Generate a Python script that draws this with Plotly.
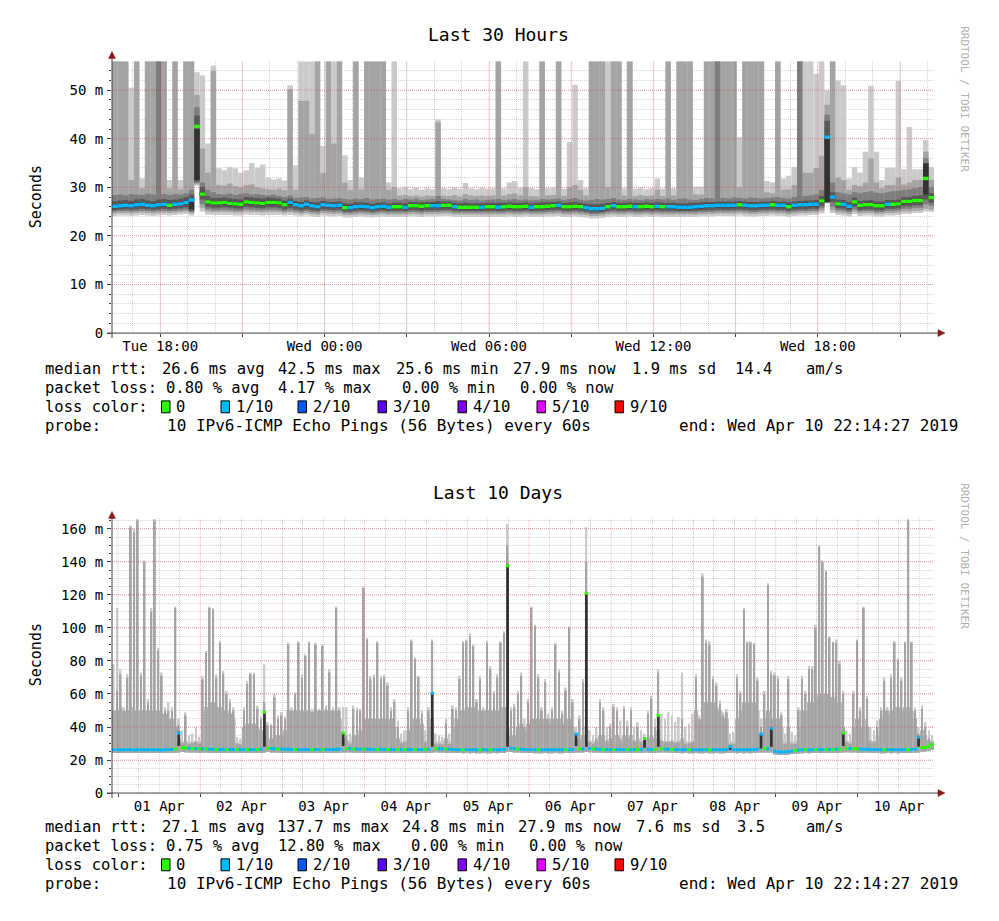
import numpy as np
import pandas as pd
import plotly.graph_objects as go

W, H = 999, 921
MONO = "DejaVu Sans Mono"

# ================= Last 30 Hours : 12-minute steps (10 sorted pings per step) =================
start30 = "2019-04-09 16:14:27"
end30 = "2019-04-10 22:14:27"

med30 = [
26.1, 26.2, 26.3, 26.2, 26.4, 26.5, 26.3, 26.2, 26.4, 26.5,
26.3, 26.5, 26.6, 26.9, 27.4, 42.5, 28.6, 27.0, 26.8, 26.8,
26.9, 26.7, 26.6, 26.5, 27.0, 26.9, 26.8, 26.7, 26.9, 26.9,
26.8, 26.4, 26.9, 26.4, 26.2, 26.5, 26.2, 26.0, 26.4, 26.3,
26.2, 26.3, 25.8, 25.8, 26.0, 26.1, 26.0, 25.8, 26.0, 26.1,
25.9, 26.0, 26.0, 25.9, 26.2, 26.2, 26.1, 26.2, 26.2, 26.2,
26.3, 26.3, 26.0, 25.9, 25.9, 25.9, 25.9, 25.9, 26.0, 26.0,
25.9, 26.0, 26.1, 26.0, 26.0, 26.1, 25.9, 26.0, 26.0, 26.1,
26.2, 26.3, 26.0, 26.0, 26.1, 26.0, 25.8, 25.6, 25.6, 25.7,
26.0, 26.2, 26.0, 26.0, 26.1, 26.0, 26.0, 26.1, 26.0, 26.1,
26.0, 26.0, 26.0, 25.9, 25.9, 25.9, 26.0, 26.1, 26.2, 26.2,
26.3, 26.3, 26.3, 26.3, 26.4, 26.3, 26.2, 26.2, 26.3, 26.3,
26.4, 26.3, 26.3, 26.0, 26.3, 26.4, 26.4, 26.5, 26.5, 27.2,
40.3, 28.0, 26.6, 26.5, 26.1, 27.0, 26.3, 26.4, 26.4, 26.2,
26.2, 26.5, 26.5, 26.6, 27.1, 27.1, 27.3, 27.3, 31.8, 27.9,
]
loss30 = [
1, 1, 1, 1, 1, 1, 1, 1, 1, 1,
0, 1, 1, 1, 1, 0, 0, 0, 0, 0,
0, 0, 0, 0, 0, 0, 0, 0, 0, 0,
0, 0, 1, 1, 1, 1, 1, 1, 1, 1,
1, 1, 0, 1, 1, 1, 1, 1, 1, 1,
1, 0, 0, 1, 0, 0, 0, 0, 1, 1,
0, 0, 1, 0, 0, 0, 0, 1, 0, 0,
1, 0, 0, 0, 0, 0, 1, 0, 0, 0,
0, 1, 0, 0, 0, 0, 1, 1, 1, 1,
0, 1, 0, 0, 0, 1, 0, 0, 0, 1,
0, 1, 1, 1, 1, 1, 1, 1, 1, 1,
1, 1, 1, 1, 0, 1, 1, 1, 1, 1,
0, 1, 1, 0, 1, 1, 1, 1, 1, 0,
1, 1, 0, 1, 1, 0, 0, 0, 0, 0,
0, 1, 0, 0, 0, 0, 0, 0, 0, 0,
]
p1_30 = [
24.1, 24.2, 24.2, 24.1, 24.2, 24.3, 24.2, 24.1, 24.2, 24.3,
24.2, 24.3, 24.4, 24.5, 24.2, 30.3, 25.0, 24.4, 24.3, 24.3,
24.3, 24.3, 24.2, 24.2, 24.4, 24.3, 24.3, 24.2, 24.3, 24.3,
24.3, 24.2, 24.3, 24.2, 24.0, 24.2, 24.0, 23.9, 24.2, 24.1,
24.0, 24.1, 23.8, 23.8, 23.9, 24.0, 23.9, 23.8, 23.9, 24.0,
23.9, 23.9, 23.9, 23.9, 24.0, 24.0, 23.9, 24.0, 24.0, 24.0,
24.1, 24.1, 23.9, 23.9, 23.9, 23.9, 23.9, 23.9, 23.9, 23.9,
23.9, 23.9, 24.0, 23.9, 23.9, 24.0, 23.9, 23.9, 23.9, 24.0,
24.0, 24.1, 23.9, 23.9, 24.0, 23.9, 23.8, 23.6, 23.6, 23.7,
23.9, 24.0, 23.9, 23.9, 24.0, 23.9, 23.9, 24.0, 23.9, 24.0,
23.9, 23.9, 23.9, 23.9, 23.9, 23.9, 23.9, 24.0, 24.0, 24.0,
24.1, 24.1, 24.1, 24.1, 24.2, 24.1, 24.0, 24.0, 24.1, 24.1,
24.2, 24.1, 24.1, 23.9, 24.1, 24.2, 24.2, 24.3, 24.3, 24.6,
26.7, 24.7, 24.3, 24.2, 24.0, 24.5, 24.1, 24.2, 24.2, 24.0,
24.0, 24.2, 24.2, 24.3, 24.5, 24.5, 24.7, 24.7, 25.0, 24.9,
]
p2_30 = [
24.6, 24.7, 24.7, 24.6, 24.7, 24.8, 24.7, 24.6, 24.7, 24.8,
24.7, 24.8, 24.9, 25.0, 24.6, 30.6, 25.8, 25.0, 24.9, 24.9,
24.9, 24.9, 24.8, 24.8, 25.0, 24.9, 24.9, 24.8, 24.9, 24.9,
24.9, 24.7, 24.9, 24.7, 24.5, 24.7, 24.5, 24.4, 24.7, 24.6,
24.5, 24.6, 24.3, 24.3, 24.4, 24.5, 24.4, 24.3, 24.4, 24.5,
24.4, 24.4, 24.4, 24.4, 24.5, 24.5, 24.4, 24.5, 24.5, 24.5,
24.6, 24.6, 24.4, 24.4, 24.4, 24.4, 24.4, 24.4, 24.4, 24.4,
24.4, 24.4, 24.5, 24.4, 24.4, 24.5, 24.4, 24.4, 24.4, 24.5,
24.5, 24.6, 24.4, 24.4, 24.5, 24.4, 24.3, 24.1, 24.1, 24.2,
24.4, 24.5, 24.4, 24.4, 24.5, 24.4, 24.4, 24.5, 24.4, 24.5,
24.4, 24.4, 24.4, 24.4, 24.4, 24.4, 24.4, 24.5, 24.5, 24.5,
24.6, 24.6, 24.6, 24.6, 24.7, 24.6, 24.5, 24.5, 24.6, 24.6,
24.7, 24.6, 24.6, 24.4, 24.6, 24.7, 24.7, 24.8, 24.8, 25.2,
26.8, 25.3, 24.8, 24.7, 24.5, 25.0, 24.6, 24.7, 24.7, 24.5,
24.5, 24.7, 24.7, 24.8, 25.0, 25.0, 25.2, 25.2, 25.6, 25.4,
]
p3_30 = [
25.0, 25.1, 25.1, 25.0, 25.1, 25.2, 25.1, 25.0, 25.1, 25.2,
25.1, 25.2, 25.3, 25.4, 24.9, 30.9, 26.5, 25.5, 25.3, 25.3,
25.4, 25.3, 25.2, 25.2, 25.5, 25.4, 25.3, 25.3, 25.4, 25.4,
25.3, 25.1, 25.3, 25.1, 24.9, 25.1, 24.9, 24.8, 25.1, 25.0,
24.9, 25.0, 24.7, 24.7, 24.8, 24.9, 24.8, 24.7, 24.8, 24.9,
24.8, 24.8, 24.8, 24.8, 24.9, 24.9, 24.8, 24.9, 24.9, 24.9,
25.0, 25.0, 24.8, 24.8, 24.8, 24.8, 24.8, 24.8, 24.8, 24.8,
24.8, 24.8, 24.9, 24.8, 24.8, 24.9, 24.8, 24.8, 24.8, 24.9,
24.9, 25.0, 24.8, 24.8, 24.9, 24.8, 24.7, 24.5, 24.5, 24.6,
24.8, 24.9, 24.8, 24.8, 24.9, 24.8, 24.8, 24.9, 24.8, 24.9,
24.8, 24.8, 24.8, 24.8, 24.8, 24.8, 24.8, 24.9, 24.9, 24.9,
25.0, 25.0, 25.0, 25.0, 25.1, 25.0, 24.9, 24.9, 25.0, 25.0,
25.1, 25.0, 25.0, 24.8, 25.0, 25.1, 25.1, 25.2, 25.2, 25.7,
26.8, 26.0, 25.3, 25.2, 24.9, 25.5, 25.0, 25.1, 25.1, 24.9,
24.9, 25.2, 25.2, 25.3, 25.6, 25.6, 25.8, 25.8, 26.5, 26.2,
]
p4_30 = [
25.3, 25.4, 25.5, 25.4, 25.5, 25.6, 25.5, 25.4, 25.5, 25.6,
25.5, 25.6, 25.7, 25.9, 25.2, 31.2, 27.5, 26.0, 25.8, 25.8,
25.9, 25.8, 25.7, 25.6, 26.0, 25.9, 25.8, 25.7, 25.9, 25.9,
25.8, 25.5, 25.8, 25.5, 25.3, 25.5, 25.3, 25.2, 25.5, 25.4,
25.3, 25.4, 25.0, 25.0, 25.2, 25.3, 25.2, 25.0, 25.2, 25.3,
25.1, 25.2, 25.2, 25.1, 25.3, 25.3, 25.2, 25.3, 25.3, 25.3,
25.4, 25.4, 25.2, 25.1, 25.1, 25.1, 25.1, 25.1, 25.2, 25.2,
25.1, 25.2, 25.3, 25.2, 25.2, 25.3, 25.1, 25.2, 25.2, 25.3,
25.3, 25.4, 25.2, 25.2, 25.3, 25.2, 25.0, 24.8, 24.8, 24.9,
25.2, 25.3, 25.2, 25.2, 25.3, 25.2, 25.2, 25.3, 25.2, 25.3,
25.2, 25.2, 25.2, 25.1, 25.1, 25.1, 25.2, 25.3, 25.3, 25.3,
25.4, 25.4, 25.4, 25.4, 25.5, 25.4, 25.3, 25.3, 25.4, 25.4,
25.5, 25.4, 25.4, 25.2, 25.4, 25.5, 25.5, 25.6, 25.6, 26.2,
26.9, 27.0, 25.7, 25.6, 25.3, 26.0, 25.4, 25.5, 25.5, 25.3,
25.3, 25.6, 25.6, 25.7, 26.1, 26.1, 26.3, 26.3, 27.5, 26.8,
]
p5_30 = [
25.7, 25.8, 25.9, 25.8, 26.0, 26.1, 25.9, 25.8, 26.0, 26.1,
25.9, 26.1, 26.2, 26.5, 25.5, 31.5, 28.2, 26.6, 26.4, 26.4,
26.5, 26.3, 26.2, 26.1, 26.6, 26.5, 26.4, 26.3, 26.5, 26.5,
26.4, 26.0, 26.5, 26.0, 25.8, 26.1, 25.8, 25.6, 26.0, 25.9,
25.8, 25.9, 25.4, 25.4, 25.6, 25.7, 25.6, 25.4, 25.6, 25.7,
25.5, 25.6, 25.6, 25.5, 25.8, 25.8, 25.7, 25.8, 25.8, 25.8,
25.9, 25.9, 25.6, 25.5, 25.5, 25.5, 25.5, 25.5, 25.6, 25.6,
25.5, 25.6, 25.7, 25.6, 25.6, 25.7, 25.5, 25.6, 25.6, 25.7,
25.8, 25.9, 25.6, 25.6, 25.7, 25.6, 25.4, 25.2, 25.2, 25.3,
25.6, 25.8, 25.6, 25.6, 25.7, 25.6, 25.6, 25.7, 25.6, 25.7,
25.6, 25.6, 25.6, 25.5, 25.5, 25.5, 25.6, 25.7, 25.8, 25.8,
25.9, 25.9, 25.9, 25.9, 26.0, 25.9, 25.8, 25.8, 25.9, 25.9,
26.0, 25.9, 25.9, 25.6, 25.9, 26.0, 26.0, 26.1, 26.1, 26.8,
27.0, 27.6, 26.2, 26.1, 25.7, 26.6, 25.9, 26.0, 26.0, 25.8,
25.8, 26.1, 26.1, 26.2, 26.7, 26.7, 26.9, 26.9, 28.5, 27.5,
]
p6_30 = [
26.5, 26.6, 26.7, 26.6, 26.8, 26.9, 26.7, 26.6, 26.8, 26.9,
26.7, 26.9, 27.0, 27.3, 27.8, 42.0, 29.0, 27.4, 27.2, 27.2,
27.3, 27.1, 27.0, 26.9, 27.4, 27.3, 27.2, 27.1, 27.3, 27.3,
27.2, 26.8, 27.3, 26.8, 26.6, 26.9, 26.6, 26.4, 26.8, 26.7,
26.6, 26.7, 26.2, 26.2, 26.4, 26.5, 26.4, 26.2, 26.4, 26.5,
26.3, 26.4, 26.4, 26.3, 26.6, 26.6, 26.5, 26.6, 26.6, 26.6,
26.7, 26.7, 26.4, 26.3, 26.3, 26.3, 26.3, 26.3, 26.4, 26.4,
26.3, 26.4, 26.5, 26.4, 26.4, 26.5, 26.3, 26.4, 26.4, 26.5,
26.6, 26.7, 26.4, 26.4, 26.5, 26.4, 26.2, 26.0, 26.0, 26.1,
26.4, 26.6, 26.4, 26.4, 26.5, 26.4, 26.4, 26.5, 26.4, 26.5,
26.4, 26.4, 26.4, 26.3, 26.3, 26.3, 26.4, 26.5, 26.6, 26.6,
26.7, 26.7, 26.7, 26.7, 26.8, 26.7, 26.6, 26.6, 26.7, 26.7,
26.8, 26.7, 26.7, 26.4, 26.7, 26.8, 26.8, 26.9, 26.9, 27.6,
40.0, 28.4, 27.0, 26.9, 26.5, 27.4, 26.7, 26.8, 26.8, 26.6,
26.6, 26.9, 26.9, 27.0, 27.5, 27.5, 27.7, 27.7, 34.9, 28.3,
]
p7_30 = [
27.2, 27.3, 27.4, 27.2, 27.5, 27.6, 27.3, 27.2, 27.5, 27.6,
27.4, 27.5, 27.7, 28.0, 28.5, 44.8, 30.0, 28.2, 27.8, 27.8,
27.9, 27.7, 27.6, 27.5, 28.0, 27.9, 27.8, 27.7, 27.9, 27.8,
27.7, 27.3, 27.7, 27.2, 27.0, 27.3, 27.0, 26.9, 27.2, 27.0,
27.0, 27.1, 26.7, 26.6, 26.9, 26.9, 26.8, 26.6, 26.8, 26.9,
26.7, 26.8, 26.8, 26.7, 27.0, 27.0, 26.9, 27.0, 27.0, 27.2,
27.1, 27.1, 26.8, 26.7, 26.8, 26.7, 26.7, 26.7, 26.8, 26.8,
26.8, 26.8, 26.9, 26.8, 26.8, 26.9, 26.7, 26.8, 26.9, 26.9,
27.0, 27.1, 26.8, 26.9, 27.0, 26.8, 26.6, 26.5, 26.5, 26.6,
26.8, 27.0, 26.8, 26.8, 26.9, 26.8, 26.8, 26.9, 26.8, 26.9,
26.8, 26.8, 26.8, 26.7, 26.7, 26.8, 26.8, 26.9, 27.0, 27.0,
27.1, 27.1, 27.1, 27.1, 27.2, 27.1, 27.0, 27.0, 27.1, 27.1,
27.2, 27.1, 27.1, 26.9, 27.1, 27.2, 27.3, 27.3, 27.4, 28.2,
43.7, 29.0, 27.5, 27.4, 27.0, 27.9, 27.2, 27.3, 27.4, 27.1,
27.1, 27.4, 27.4, 27.5, 28.0, 28.0, 28.2, 28.3, 35.0, 28.8,
]
p8_30 = [
28.4, 28.5, 28.3, 28.6, 28.5, 28.4, 28.7, 28.5, 60.0, 28.6,
28.4, 28.6, 28.5, 28.8, 29.5, 46.5, 31.0, 29.5, 29.0, 28.6,
28.5, 28.7, 28.4, 28.6, 28.8, 28.5, 28.6, 28.4, 28.3, 28.5,
28.2, 28.0, 28.3, 27.8, 27.9, 28.0, 27.7, 27.8, 27.9, 27.6,
27.7, 27.8, 27.6, 27.5, 27.7, 27.6, 27.8, 27.5, 27.6, 27.7,
27.5, 27.6, 27.4, 27.6, 27.5, 27.7, 27.4, 27.5, 27.6, 28.2,
27.6, 27.5, 27.4, 27.3, 27.6, 27.4, 27.5, 27.3, 27.4, 27.5,
27.6, 27.4, 27.5, 27.6, 27.4, 27.5, 27.3, 27.4, 27.6, 27.5,
27.6, 27.7, 27.4, 27.6, 27.8, 27.5, 27.3, 27.4, 27.6, 27.5,
27.6, 27.8, 27.5, 27.4, 27.6, 27.5, 27.4, 27.6, 27.5, 27.6,
27.5, 27.7, 27.4, 27.6, 27.7, 27.5, 27.4, 27.6, 27.8, 27.7,
60.0, 27.8, 27.7, 27.9, 27.8, 27.7, 27.9, 27.8, 27.7, 27.8,
27.9, 28.0, 27.8, 27.7, 28.0, 60.0, 28.2, 28.3, 28.5, 29.5,
45.0, 31.0, 29.0, 28.8, 28.5, 29.0, 28.8, 29.0, 29.2, 28.9,
28.8, 29.0, 29.2, 29.3, 29.5, 29.6, 29.8, 30.0, 36.0, 30.0,
]
p9_30 = [
60.0, 60.0, 60.0, 31.5, 60.0, 29.8, 60.0, 60.0, 60.0, 60.0,
29.8, 60.0, 29.6, 60.0, 60.0, 49.0, 38.0, 33.0, 54.0, 30.5,
30.3, 30.8, 30.2, 30.0, 30.4, 30.6, 30.0, 29.8, 29.6, 29.5,
29.7, 29.4, 50.2, 29.5, 47.8, 47.8, 41.0, 60.0, 33.0, 60.0,
39.0, 60.0, 31.0, 29.5, 60.0, 29.6, 60.0, 60.0, 60.0, 60.0,
29.5, 30.0, 28.3, 28.4, 28.2, 28.3, 28.1, 28.3, 28.2, 43.4,
28.3, 28.2, 28.4, 28.1, 28.6, 28.3, 28.2, 28.3, 28.2, 28.3,
60.0, 28.3, 28.6, 28.8, 28.3, 30.0, 28.2, 28.1, 60.0, 28.3,
28.4, 60.0, 28.2, 30.0, 30.5, 29.5, 28.3, 60.0, 60.0, 60.0,
30.0, 60.0, 60.0, 28.3, 60.0, 28.2, 28.4, 28.2, 28.3, 29.5,
28.2, 60.0, 28.3, 60.0, 60.0, 60.0, 28.5, 28.5, 60.0, 60.0,
60.0, 60.0, 60.0, 60.0, 30.0, 60.0, 60.0, 60.0, 60.0, 29.0,
28.8, 60.0, 29.5, 29.6, 30.5, 60.0, 33.0, 33.0, 34.0, 36.5,
47.0, 60.0, 32.0, 31.5, 29.5, 30.5, 30.2, 31.0, 36.0, 31.0,
29.8, 30.5, 30.5, 32.0, 30.6, 31.0, 31.5, 31.5, 37.3, 31.5,
]
p10_30 = [
60.0, 60.0, 60.0, 50.5, 60.0, 31.8, 60.0, 60.0, 60.0, 60.0,
31.5, 60.0, 31.5, 60.0, 60.0, 53.7, 53.0, 39.0, 55.0, 33.9,
33.5, 34.2, 33.9, 33.0, 33.5, 35.0, 34.0, 34.7, 32.0, 31.6,
31.8, 31.4, 51.0, 34.5, 60.0, 60.0, 60.0, 60.0, 38.5, 60.0,
60.0, 60.0, 36.6, 31.5, 60.0, 32.0, 60.0, 60.0, 60.0, 60.0,
31.0, 60.0, 29.8, 30.1, 29.6, 29.9, 29.5, 29.8, 29.6, 44.0,
29.8, 29.6, 29.9, 29.7, 30.9, 29.8, 29.6, 29.9, 29.7, 29.8,
60.0, 29.8, 31.0, 31.3, 29.9, 60.0, 29.8, 29.6, 60.0, 29.8,
29.9, 60.0, 29.7, 39.3, 51.1, 31.5, 29.8, 60.0, 60.0, 60.0,
60.0, 60.0, 60.0, 29.8, 60.0, 29.7, 29.9, 29.6, 29.8, 31.8,
29.7, 60.0, 29.8, 60.0, 60.0, 60.0, 30.1, 30.1, 60.0, 60.0,
60.0, 60.0, 60.0, 60.0, 40.3, 60.0, 60.0, 60.0, 60.0, 31.3,
31.0, 60.0, 31.8, 32.4, 34.2, 60.0, 60.0, 60.0, 53.3, 60.0,
49.9, 60.0, 52.0, 51.0, 31.8, 34.2, 33.0, 37.3, 50.9, 37.3,
31.5, 34.0, 34.0, 51.9, 33.7, 42.4, 33.7, 33.7, 39.7, 34.2,
]
x30_tickvals = ["2019-04-09 18:00", "2019-04-09 21:00", "2019-04-10 00:00", "2019-04-10 03:00",
                "2019-04-10 06:00", "2019-04-10 09:00", "2019-04-10 12:00", "2019-04-10 15:00",
                "2019-04-10 18:00", "2019-04-10 21:00"]
x30_ticktext = ["Tue 18:00", "", "Wed 00:00", "", "Wed 06:00", "", "Wed 12:00", "", "Wed 18:00", ""]
y30_tickvals = [0, 10, 20, 30, 40, 50]
y30_ticktext = ["0", "10 m", "20 m", "30 m", "40 m", "50 m"]

# ================= Last 10 Days : 1-hour steps =================
start10 = "2019-03-31 22:14:27"
end10 = "2019-04-10 22:14:27"
x10_days = ["2019-04-01", "2019-04-02", "2019-04-03", "2019-04-04", "2019-04-05",
            "2019-04-06", "2019-04-07", "2019-04-08", "2019-04-09", "2019-04-10"]

med10 = [
26.2, 26.3, 26.2, 26.2, 26.3, 26.2, 26.1, 26.2, 26.3, 26.2,
26.2, 26.3, 26.2, 26.2, 26.1, 26.2, 26.3, 26.4, 26.6, 36.3,
27.4, 27.3, 27.1, 27.0, 26.9, 26.8, 26.8, 26.7, 26.6, 26.5,
26.5, 26.4, 26.4, 26.3, 26.4, 26.3, 26.3, 26.4, 26.3, 26.3,
26.4, 26.3, 26.4, 26.5, 49.0, 27.2, 27.0, 26.8, 26.7, 26.6,
26.5, 26.5, 26.4, 26.4, 26.3, 26.3, 26.4, 26.3, 26.3, 26.4,
26.3, 26.3, 26.4, 26.3, 26.4, 26.5, 26.5, 36.3, 26.9, 26.8,
26.7, 26.6, 26.6, 26.5, 26.5, 26.5, 26.4, 26.4, 26.5, 26.4,
26.4, 26.3, 26.3, 26.4, 26.3, 26.3, 26.4, 26.3, 26.4, 26.3,
26.3, 26.4, 26.5, 60.5, 27.0, 26.8, 26.7, 26.6, 26.5, 26.4,
26.3, 26.3, 26.2, 26.3, 26.2, 26.3, 26.2, 26.2, 26.3, 26.2,
26.2, 26.3, 26.2, 26.3, 26.4, 137.7, 27.2, 26.9, 26.7, 26.5,
26.4, 26.3, 26.3, 26.2, 26.2, 26.2, 26.3, 26.2, 26.2, 26.3,
26.2, 26.2, 26.3, 26.3, 26.4, 35.7, 26.8, 26.6, 121.0, 27.0,
26.8, 26.6, 26.5, 26.4, 26.4, 26.3, 26.3, 26.4, 26.3, 26.3,
26.4, 26.3, 26.3, 26.4, 26.4, 33.0, 26.5, 26.4, 26.4, 47.0,
26.8, 26.6, 26.5, 26.4, 26.3, 26.3, 26.2, 26.3, 26.2, 26.2,
26.3, 26.2, 26.2, 26.3, 26.2, 26.2, 26.3, 26.2, 26.2, 26.3,
28.0, 26.3, 26.2, 26.3, 26.2, 26.3, 26.2, 26.4, 26.6, 35.7,
27.0, 26.8, 39.3, 25.3, 25.0, 24.8, 24.9, 25.1, 25.4, 25.8,
26.1, 26.2, 26.3, 26.2, 26.3, 26.3, 26.4, 26.3, 26.3, 26.4,
26.4, 26.5, 26.6, 36.3, 27.2, 27.0, 26.8, 26.7, 26.6, 26.5,
26.5, 26.4, 26.3, 26.3, 26.2, 26.2, 26.3, 26.2, 26.3, 26.2,
26.3, 26.3, 26.4, 26.4, 26.5, 34.0, 27.6, 27.6, 28.4, 29.4,
]
loss10 = [
1, 1, 1, 1, 1, 1, 1, 1, 1, 1,
1, 1, 1, 1, 1, 1, 1, 1, 0, 1,
0, 0, 1, 0, 1, 0, 1, 0, 1, 1,
0, 1, 1, 0, 1, 1, 0, 1, 1, 0,
1, 1, 0, 1, 0, 0, 1, 1, 0, 1,
1, 1, 1, 0, 1, 1, 1, 1, 0, 1,
1, 0, 1, 1, 1, 1, 1, 0, 0, 1,
0, 1, 1, 0, 1, 1, 1, 0, 1, 1,
0, 1, 1, 0, 1, 0, 1, 1, 0, 1,
1, 0, 1, 1, 0, 1, 1, 0, 1, 1,
1, 1, 0, 1, 1, 1, 1, 0, 1, 1,
0, 1, 1, 1, 1, 0, 1, 1, 0, 1,
1, 1, 1, 1, 0, 1, 1, 1, 1, 1,
1, 1, 0, 1, 1, 1, 0, 1, 0, 1,
0, 1, 1, 0, 1, 1, 0, 1, 1, 1,
0, 1, 1, 0, 1, 0, 1, 1, 0, 0,
0, 1, 1, 0, 1, 1, 1, 1, 0, 1,
1, 1, 1, 1, 0, 1, 1, 1, 1, 1,
1, 1, 1, 1, 1, 1, 1, 1, 1, 1,
0, 1, 1, 1, 1, 1, 1, 1, 1, 0,
1, 1, 0, 1, 1, 0, 1, 1, 0, 1,
0, 1, 0, 0, 0, 1, 0, 0, 1, 1,
1, 1, 1, 1, 1, 0, 1, 1, 1, 1,
1, 1, 0, 1, 1, 1, 0, 0, 0, 0,
]
lo10 = [
24.2, 24.2, 24.3, 24.2, 24.2, 24.3, 24.2, 24.2, 24.2, 24.3,
24.2, 24.2, 24.3, 24.2, 24.2, 24.2, 24.3, 24.3, 24.4, 24.6,
24.8, 24.7, 24.6, 24.5, 24.5, 24.4, 24.4, 24.4, 24.3, 24.3,
24.3, 24.3, 24.2, 24.2, 24.3, 24.2, 24.2, 24.3, 24.2, 24.2,
24.3, 24.2, 24.3, 24.3, 24.6, 24.8, 24.6, 24.5, 24.4, 24.4,
24.3, 24.3, 24.3, 24.2, 24.2, 24.2, 24.3, 24.2, 24.2, 24.3,
24.2, 24.2, 24.3, 24.2, 24.3, 24.3, 24.4, 24.6, 24.6, 24.5,
24.4, 24.4, 24.4, 24.3, 24.3, 24.3, 24.3, 24.3, 24.3, 24.3,
24.3, 24.2, 24.2, 24.3, 24.2, 24.2, 24.3, 24.2, 24.3, 24.2,
24.2, 24.3, 24.3, 24.6, 24.7, 24.6, 24.5, 24.4, 24.4, 24.3,
24.2, 24.2, 24.1, 24.2, 24.1, 24.2, 24.1, 24.1, 24.2, 24.1,
24.1, 24.2, 24.1, 24.2, 24.3, 24.8, 24.8, 24.6, 24.5, 24.4,
24.3, 24.2, 24.2, 24.1, 24.1, 24.1, 24.2, 24.1, 24.1, 24.2,
24.1, 24.1, 24.2, 24.2, 24.3, 24.6, 24.6, 24.5, 24.8, 24.7,
24.6, 24.5, 24.4, 24.3, 24.3, 24.2, 24.2, 24.3, 24.2, 24.2,
24.3, 24.2, 24.2, 24.3, 24.3, 24.5, 24.4, 24.3, 24.3, 24.6,
24.6, 24.5, 24.4, 24.3, 24.2, 24.2, 24.1, 24.2, 24.1, 24.1,
24.2, 24.1, 24.1, 24.2, 24.1, 24.1, 24.2, 24.1, 24.1, 24.2,
24.3, 24.2, 24.1, 24.2, 24.1, 24.2, 24.1, 24.3, 24.4, 24.5,
24.6, 24.5, 24.5, 23.5, 23.2, 23.0, 23.1, 23.3, 23.6, 23.9,
24.0, 24.1, 24.2, 24.1, 24.2, 24.2, 24.3, 24.2, 24.2, 24.3,
24.3, 24.4, 24.4, 24.6, 24.7, 24.6, 24.5, 24.5, 24.4, 24.4,
24.4, 24.3, 24.2, 24.2, 24.1, 24.1, 24.2, 24.1, 24.2, 24.1,
24.2, 24.2, 24.3, 24.3, 24.4, 24.6, 25.0, 25.1, 25.5, 26.0,
]
# level up to which the smoke is dense within each hour
fill10 = [
50, 50, 52, 50, 50, 52, 50, 50, 50, 50,
50, 50, 50, 50, 48, 48, 45, 45, 40, 33,
31, 31, 31, 31, 31, 31, 50, 52, 55, 55,
52, 52, 50, 50, 48, 45, 31, 31, 40, 42,
42, 42, 40, 38, 35, 33, 33, 35, 35, 35,
38, 50, 50, 50, 50, 50, 50, 50, 50, 50,
50, 50, 50, 50, 50, 50, 45, 33, 32, 31,
35, 35, 38, 45, 45, 45, 45, 45, 45, 45,
45, 45, 40, 33, 31, 31, 38, 45, 45, 45,
42, 31, 40, 45, 31, 31, 30, 33, 31, 40,
45, 50, 50, 52, 52, 52, 50, 50, 50, 50,
50, 50, 50, 52, 52, 40, 35, 35, 40, 42,
38, 42, 45, 45, 45, 45, 45, 42, 45, 45,
45, 42, 45, 45, 40, 33, 33, 35, 40, 31,
30, 31, 35, 35, 31, 33, 35, 35, 31, 35,
33, 35, 31, 33, 31, 31, 33, 35, 33, 38,
31, 31, 31, 31, 30, 31, 33, 30, 30, 31,
50, 45, 55, 55, 55, 55, 52, 50, 45, 45,
30, 30, 45, 50, 55, 55, 55, 55, 50, 35,
45, 50, 45, 45, 45, 40, 30, 40, 30, 30,
40, 50, 50, 55, 55, 58, 60, 60, 60, 58,
58, 55, 55, 40, 31, 30, 40, 45, 40, 45,
40, 31, 31, 35, 45, 50, 48, 50, 52, 52,
50, 52, 52, 50, 45, 33, 38, 35, 32, 31,
]
p9_10 = [
50, 62, 72, 50, 70, 161, 158, 165, 71, 140,
55, 110, 165, 86, 71, 50, 50, 50, 112, 41,
30.5, 47, 30, 30.5, 31, 30, 69, 85, 112, 111,
70, 91, 72, 60, 55, 50, 30, 29.5, 50, 66,
72, 72, 51, 45, 55, 41, 41, 58, 45, 47,
45, 90, 50, 60, 91, 70, 83, 91, 49, 90,
50, 89, 51, 73, 50, 112, 50, 37, 35, 30,
51, 50, 50, 124, 93, 69, 70, 91, 69, 70,
65, 50, 55, 40, 30.5, 31, 50, 92, 81, 70,
48, 31, 50, 92, 30, 30, 29.5, 42, 30, 51,
50, 69, 91, 92, 95, 89, 55, 69, 50, 91,
75, 60, 70, 91, 97, 150, 50, 52, 60, 71,
40, 55, 112, 101, 70, 50, 67, 45, 50, 90,
73, 48, 62, 100, 55, 36, 45, 67, 140, 31,
30, 33, 55, 50, 32, 40, 52, 50, 33, 51,
40, 50, 32, 40, 31, 33, 48, 57, 40, 73,
32, 31, 31, 32, 30.5, 31, 45, 30, 30.5, 31,
70, 45, 131, 91, 90, 69, 65, 54, 47, 49,
30, 30, 70, 60, 111, 91, 91, 90, 68, 40,
60, 126, 72, 71, 69, 47, 30, 69, 30, 30,
50, 69, 60, 75, 75, 100, 149, 140, 134, 94,
91, 91, 78, 60, 31, 30, 60, 92, 50, 112,
57, 32, 31, 40, 50, 68, 50, 70, 91, 80,
68, 91, 165, 91, 50, 36, 51, 40, 33, 31,
]
p10_10 = [
78, 112, 75, 52, 72, 162, 160, 166, 73, 141,
57, 112, 166, 88, 73, 52, 55, 52, 113, 45,
38, 49, 35, 36, 40, 34, 71, 86, 113, 112,
72, 92, 74, 62, 57, 52, 34, 33, 52, 68,
73, 73, 53, 47, 78, 43, 42, 60, 47, 49,
46, 91, 52, 61, 92, 72, 84, 92, 51, 91,
51, 90, 53, 75, 52, 113, 52, 52, 52, 36,
53, 52, 51, 125, 94, 71, 72, 92, 71, 72,
67, 52, 57, 44, 36, 38, 52, 93, 82, 71,
50, 38, 52, 93, 36, 35, 34, 45, 36, 53,
52, 71, 92, 93, 97, 90, 57, 71, 52, 92,
77, 62, 72, 92, 98, 163, 52, 54, 62, 73,
45, 57, 113, 102, 72, 52, 69, 48, 52, 91,
75, 50, 64, 101, 57, 40, 47, 69, 161, 38,
35, 40, 57, 52, 40, 42, 54, 52, 44, 53,
44, 52, 40, 43, 38, 36, 50, 59, 45, 75,
48, 45, 49, 47, 43, 46, 73, 40, 42, 48,
72, 47, 133, 93, 92, 71, 67, 56, 49, 51,
36, 37, 72, 62, 112, 92, 92, 91, 70, 45,
62, 127, 74, 73, 71, 49, 36, 71, 37, 35,
52, 71, 62, 77, 77, 102, 150, 141, 135, 95,
92, 93, 80, 62, 38, 36, 62, 93, 52, 113,
59, 40, 38, 44, 52, 70, 52, 72, 92, 82,
70, 92, 166, 92, 52, 40, 53, 43, 38, 35,
]
# hours where the median itself jumped (dark smoke core around the median)
ev10_time = ["2019-04-01 17:44:27", "2019-04-02 18:44:27", "2019-04-03 17:44:27", "2019-04-04 19:44:27",
             "2019-04-05 17:44:27", "2019-04-06 13:44:27", "2019-04-06 16:44:27", "2019-04-07 09:44:27",
             "2019-04-07 13:44:27", "2019-04-08 10:44:27", "2019-04-08 19:44:27", "2019-04-08 22:44:27",
             "2019-04-09 19:44:27", "2019-04-10 17:44:27"]
ev10_lo = [28.5, 28.0, 28.5, 28.0, 28.0, 28.5, 28.0, 27.5, 28.0, 26.0, 27.0, 28.0, 28.5, 28.0]
ev10_hi = [37.3, 49.5, 37.0, 61.0, 138.5, 36.2, 121.5, 33.5, 47.5, 28.5, 36.0, 39.6, 36.6, 34.5]
y10_tickvals = [0, 20, 40, 60, 80, 100, 120, 140, 160]
y10_ticktext = ["0", "20 m", "40 m", "60 m", "80 m", "100 m", "120 m", "140 m", "160 m"]

# ================= legend texts =================
loss_labels = ["0", "1/10", "2/10", "3/10", "4/10", "5/10", "9/10"]
loss_palette = ["#26ff00", "#00b8ff", "#0059ff", "#5e00ff", "#7e00ff", "#dd00ff", "#ff0000"]
stats30 = [["median rtt:", "26.6 ms avg", "42.5 ms max", "25.6 ms min", "27.9 ms now", "1.9 ms sd", "14.4", "am/s"],
           ["packet loss:", "0.80 % avg", "4.17 % max", "0.00 % min", "0.00 % now"]]
stats10 = [["median rtt:", "27.1 ms avg", "137.7 ms max", "24.8 ms min", "27.9 ms now", "7.6 ms sd", "3.5", "am/s"],
           ["packet loss:", "0.75 % avg", "12.80 % max", "0.00 % min", "0.00 % now"]]
probe_text = "10 IPv6-ICMP Echo Pings (56 Bytes) every 60s"
end_text = "end: Wed Apr 10 22:14:27 2019"

# ================= drawing =================
SMOKE = ["#cacaca", "#a4a4a4", "#7e7e7e", "#585858", "#323232"]
GRID_MAJOR = "rgba(255,0,0,0.30)"
GRID_MINOR = "rgba(120,120,120,0.32)"
DASH = "1px,1px"
AXIS_COL = "#404040"
ARROW_COL = "#8b1a1a"


def px(x):
    return x / W


def py(y):
    return 1 - y / H


fig = go.Figure()


def add_band(t, lo, hi, color, width, xa, ya):
    lo = np.asarray(lo, float)
    hi = np.asarray(hi, float)
    fig.add_trace(go.Bar(x=t, y=hi - lo, base=lo, width=width,
                         marker=dict(color=color, line=dict(width=0)),
                         xaxis=xa, yaxis=ya, hoverinfo="skip", showlegend=False))


def add_median(t, med, loss, thick, width, xa, ya):
    med = np.asarray(med, float)
    fig.add_trace(go.Bar(x=t, y=np.full(len(med), thick), base=med - thick / 2, width=width,
                         marker=dict(color=[loss_palette[l] for l in loss], line=dict(width=0)),
                         xaxis=xa, yaxis=ya, hoverinfo="skip", showlegend=False))


# --- 30 hours ---
step30 = pd.Timedelta(minutes=12)
t30 = pd.date_range(start30, periods=len(med30), freq="12min") + step30 / 2
w30 = step30.total_seconds() * 1000
lows = [p1_30, p2_30, p3_30, p4_30, p5_30]
highs = [p10_30, p9_30, p8_30, p7_30, p6_30]
for i in range(5):
    add_band(t30, lows[i], highs[i], SMOKE[i], w30, "x", "y")
add_median(t30, med30, loss30, 0.7, w30, "x", "y")

# --- 10 days ---
step10 = pd.Timedelta(hours=1)
t10 = pd.date_range(start10, periods=len(med10), freq="1h") + step10 / 2
w10 = step10.total_seconds() * 1000
p10a = np.asarray(p10_10, float)
p9a = np.asarray(p9_10, float)
filla = np.asarray(fill10, float)
# dense smoke (full step width) ...
add_band(t10, lo10, np.minimum(p10a, np.maximum(filla, 31.5)), SMOKE[0], w10, "x2", "y2")
add_band(t10, lo10, np.minimum(p9a, filla), SMOKE[1], w10, "x2", "y2")
# ... and the sparse outliers drawn as thin spikes
add_band(t10, lo10, p10a, SMOKE[0], w10 * 0.5, "x2", "y2")
add_band(t10, lo10, p9a, SMOKE[1], w10 * 0.5, "x2", "y2")
add_band(pd.to_datetime(ev10_time), ev10_lo, ev10_hi, SMOKE[4], w10 * 0.8, "x2", "y2")
add_median(t10, med10, loss10, 1.8, w10, "x2", "y2")

tickfont = dict(family=MONO, size=14, color="#000000")
# major grid is drawn as shapes on top of the smoke (as rrdtool does); minor grid via the axes
xcommon = dict(type="date", showgrid=False, zeroline=False, showline=False,
               ticks="outside", ticklen=3, tickcolor=AXIS_COL,
               tickfont=tickfont, fixedrange=True, ticklabelstandoff=-3)
ycommon = dict(showgrid=False, zeroline=False, showline=False,
               ticks="outside", ticklen=4, tickcolor=AXIS_COL,
               tickfont=tickfont, fixedrange=True, tickmode="array", ticklabelstandoff=1)

fig.update_layout(
    width=W, height=H, autosize=False, margin=dict(l=0, r=0, t=0, b=0, pad=0),
    paper_bgcolor="white", plot_bgcolor="white",
    barmode="overlay", showlegend=False, hovermode=False,
    xaxis=dict(xcommon, domain=[px(112), px(934)], anchor="y", range=[start30, end30],
               tickmode="array", tickvals=x30_tickvals, ticktext=x30_ticktext,
               minor=dict(dtick=3600000, tick0="2019-04-09 00:00", showgrid=True,
                          gridcolor=GRID_MINOR, griddash=DASH, ticks="")),
    yaxis=dict(ycommon, domain=[py(336), py(62)], anchor="x", range=[0, 55.9],
               tickvals=y30_tickvals, ticktext=y30_ticktext,
               minor=dict(dtick=2, tick0=0, showgrid=True, gridcolor=GRID_MINOR, griddash=DASH,
                          ticks="outside", ticklen=2, tickcolor=AXIS_COL)),
    xaxis2=dict(xcommon, domain=[px(112), px(934)], anchor="y2", range=[start10, end10],
                tickmode="linear", tick0="2019-03-31 00:00", dtick=86400000,
                tickformat="%d %b", ticklabelmode="period",
                minor=dict(dtick=21600000, tick0="2019-03-31 00:00", showgrid=True,
                           gridcolor=GRID_MINOR, griddash=DASH, ticks="")),
    yaxis2=dict(ycommon, domain=[py(800), py(523)], anchor="x2", range=[0, 166.3],
                tickvals=y10_tickvals, ticktext=y10_ticktext,
                minor=dict(dtick=5, tick0=0, showgrid=True, gridcolor=GRID_MINOR, griddash=DASH,
                           ticks="outside", ticklen=2, tickcolor=AXIS_COL)),
)

shapes = []
annos = []

grid_line = dict(color=GRID_MAJOR, width=1, dash=DASH)
for v in y30_tickvals[1:]:
    shapes.append(dict(type="line", xref="x domain", yref="y", x0=0, x1=1, y0=v, y1=v,
                       line=grid_line, layer="above"))
for v in x30_tickvals:
    shapes.append(dict(type="line", xref="x", yref="y domain", x0=v, x1=v, y0=0, y1=1,
                       line=grid_line, layer="above"))
for v in y10_tickvals[1:]:
    shapes.append(dict(type="line", xref="x2 domain", yref="y2", x0=0, x1=1, y0=v, y1=v,
                       line=grid_line, layer="above"))
for v in x10_days:
    shapes.append(dict(type="line", xref="x2", yref="y2 domain", x0=v, x1=v, y0=0, y1=1,
                       line=grid_line, layer="above"))


def axes_decor(y_axis_px, y_top_px):
    shapes.append(dict(type="line", xref="paper", yref="paper", x0=px(107), x1=px(938),
                       y0=py(y_axis_px), y1=py(y_axis_px), line=dict(color=AXIS_COL, width=1)))
    shapes.append(dict(type="line", xref="paper", yref="paper", x0=px(112), x1=px(112),
                       y0=py(y_axis_px + 5), y1=py(y_top_px), line=dict(color=AXIS_COL, width=1)))
    shapes.append(dict(type="path", xref="paper", yref="paper",
                       path=f"M {px(108.5)},{py(y_top_px)} L {px(115.5)},{py(y_top_px)} L {px(112)},{py(y_top_px - 7)} Z",
                       fillcolor=ARROW_COL, line=dict(color=ARROW_COL, width=0.5)))
    shapes.append(dict(type="path", xref="paper", yref="paper",
                       path=f"M {px(938)},{py(y_axis_px - 3.5)} L {px(938)},{py(y_axis_px + 3.5)} L {px(945)},{py(y_axis_px)} Z",
                       fillcolor=ARROW_COL, line=dict(color=ARROW_COL, width=0.5)))


axes_decor(336, 59)
axes_decor(800, 523)


def text(x, y, s, size=14, color="#000000", anchor="left", angle=0):
    annos.append(dict(x=px(x), y=py(y), xref="paper", yref="paper", text=s, showarrow=False,
                      xanchor=anchor, yanchor="middle", textangle=angle, borderpad=0,
                      font=dict(family=MONO, size=size, color=color)))


# titles, axis titles, watermark
text(498, 35, "Last 30 Hours", size=18, anchor="center")
text(498, 497, "Last 10 Days", size=18, anchor="center")
text(36, 199, "Seconds", size=15, anchor="center", angle=-90)
text(36, 661, "Seconds", size=15, anchor="center", angle=-90)
text(965, 100, "RRDTOOL / TOBI OETIKER", size=11, color="#b0b0b0", anchor="center", angle=90)
text(965, 561, "RRDTOOL / TOBI OETIKER", size=11, color="#b0b0b0", anchor="center", angle=90)

# legends
col_x = [[44, 161, 277, 395, 512, 631, 734, 805], [44, 165, 277, 401, 519]]
col_x10 = [[44, 161, 276, 401, 517, 635, 736, 805], [44, 165, 277, 410, 528]]
box_x = [161.5, 221, 298, 378, 458, 537, 615]
lab_x = [175, 235, 312, 392, 472, 551, 629]
LEG_FONT = 15.5
LINE_H = 19.2


def legend_block(y0, stats, cols):
    for r in range(2):
        for s, x in zip(stats[r], cols[r]):
            text(x, y0 + LINE_H * r, s, size=LEG_FONT)
    yc = y0 + LINE_H * 2
    text(44, yc, "loss color:", size=LEG_FONT)
    for bx, lx, lab, colr in zip(box_x, lab_x, loss_labels, loss_palette):
        shapes.append(dict(type="rect", xref="paper", yref="paper", x0=px(bx), x1=px(bx + 8.5),
                           y0=py(yc + 6), y1=py(yc - 6), fillcolor=colr,
                           line=dict(color="#000000", width=1)))
        text(lx, yc, lab, size=LEG_FONT)
    yp = y0 + LINE_H * 3
    text(44, yp, "probe:", size=LEG_FONT)
    text(166, yp, probe_text, size=16)
    text(678, yp, end_text, size=16)


legend_block(372, stats30, col_x)
legend_block(834, stats10, col_x10)

fig.update_layout(shapes=shapes, annotations=annos)
fig.write_html("out.html", config={"responsive": False, "displayModeBar": False})
